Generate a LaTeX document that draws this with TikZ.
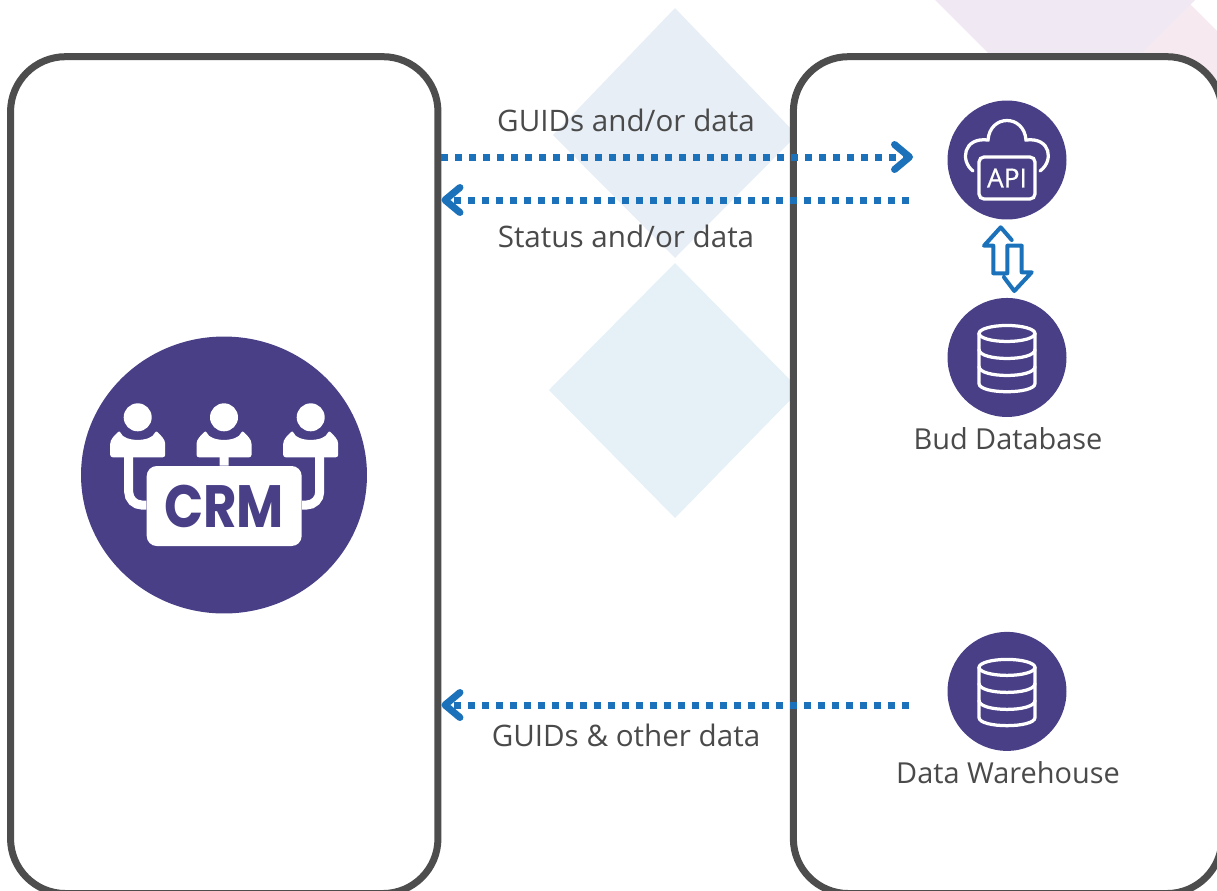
\documentclass[tikz,border=0pt]{standalone}
\usepackage{fontspec}
\usepackage{tikz}
\usetikzlibrary{arrows.meta,shapes.geometric,positioning}
\setmainfont{Open Sans}
\newfontfamily\crmfont[FakeStretch=0.86]{Poppins}
\newfontfamily\apifont[FakeBold=0.5]{Open Sans}
\definecolor{iconpurple}{HTML}{483F87}
\definecolor{flowblue}{HTML}{1B72BA}
\definecolor{panelgrey}{HTML}{4D4D4D}
\definecolor{textgrey}{HTML}{4A4A4A}
\definecolor{bgblue}{HTML}{E8EEF6}
\definecolor{bgsky}{HTML}{E5F0F7}
\definecolor{bglilac}{HTML}{F0E9F3}
\definecolor{bgpink}{HTML}{F7E9F0}

\begin{document}
\begin{tikzpicture}[x=0.02cm, y=-0.02cm, node distance={3.95cm},
    panel/.style = {draw=panelgrey, fill=white, line width=0.14cm, rounded corners=1.1cm, inner sep=0pt},
    main/.style = {circle, fill=iconpurple, minimum size=2.38cm, inner sep=0pt},
    flow/.style = {draw=flowblue, line width=0.14cm, dash pattern=on 0.14cm off 0.14cm, -{Straight Barb[length=0.3cm, width=0.5cm, line width=0.14cm, round]}},
    lbl/.style = {text=textgrey, font=\fontsize{16.85}{18}\selectfont, inner sep=0pt},
    sidelbl/.style = {text=textgrey, font=\fontsize{16.45}{18}\selectfont, inner sep=0pt},
    glyph/.style = {draw=white, line width=0.065cm, line cap=round},
    wire/.style = {draw=white, line width=0.18cm, rounded corners=0.26cm},
    person/.pic = {
        \fill[white] (0,0) circle [radius=14];
        \fill[white, rounded corners=0.05cm] (-27.5,40) -- (-27.5,29) .. controls (-27.5,22) and (-23,18) .. (-18,13) .. controls (-14,25) and (14,25) .. (18,13) .. controls (23,18) and (27.5,22) .. (27.5,29) -- (27.5,40) -- cycle;
    },
    dbglyph/.pic = {
        \draw[glyph] (0,-24) ellipse [x radius=28, y radius=8];
        \draw[glyph] (-28,-24) -- (-28,26) .. controls (-28,37) and (28,37) .. (28,26) -- (28,-24);
        \draw[glyph] (-28,-8) .. controls (-28,4) and (28,4) .. (28,-8);
        \draw[glyph] (-28,9) .. controls (-28,21) and (28,21) .. (28,9);
    }]
    \path[use as bounding box, clip] (0,0) rectangle (1217,890);
    % backdrop
    \fill[bgblue] (675,8) -- (797,135) -- (675,258) -- (553,135) -- cycle;
    \fill[bgsky] (675,263) -- (800,390) -- (675,518) -- (549,390) -- cycle;
    \fill[bgpink] (1190,4) -- (1280,94) -- (1190,184) -- (1100,94) -- cycle;
    \fill[bglilac] (935,0) -- (1195,0) -- (1065,130) -- cycle;
    % panels
    \node[panel, minimum width=8.55cm, minimum height=16.74cm] (crmpanel) at (224.25,475.1) {};
    \node[panel, minimum width=8.574cm, minimum height=16.74cm] (budpanel) at (1007.65,475.1) {};
    % right column
    \node[main] (api) at (1007,160) {};
    \node[main] (bud) [below of=api] {};
    \node[main, node distance=6.68cm] (warehouse) [below of=bud] {};
    \node[sidelbl] (budlbl) at (1008,439) {Bud Database};
    \node[sidelbl] (warehouselbl) at (1008,773) {Data Warehouse};
    \pic at (bud) {dbglyph};
    \pic at (warehouse) {dbglyph};
    \node[draw=white, line width=0.065cm, rounded corners=0.1cm, minimum width=1.12cm, minimum height=0.84cm, inner sep=0pt, text=white, font=\apifont\fontsize{15}{15}\selectfont, yshift=-0.36cm] (apitag) at (api) {API};
    \draw[glyph, shift={(api)}] (-34,11) .. controls (-47,1) and (-44,-23) .. (-19,-20) .. controls (-17,-46) and (17,-46) .. (19,-20) .. controls (44,-23) and (47,1) .. (33,11);
    % up and down arrows
    \draw[flowblue, line width=0.08cm, line join=round, line cap=round] (1011.7,240) -- (1000.7,227.3) -- (984,245.7) -- (993.3,245.7) -- (993.3,273.3) -- (1007.3,273.3) -- (1007.3,245.7) -- (1021.7,245.7) -- (1021.7,272.3) -- (1031.7,272.3) -- (1014.3,291) -- (1004,277.3);
    % crm side
    \node[ellipse, fill=iconpurple, minimum width=5.72cm, minimum height=5.54cm, inner sep=0pt] (crm) at (224,475) {};
    \pic at (137.7,417.3) {person};
    \pic at (224,417.3) {person};
    \pic at (310.7,417.3) {person};
    \node[fill=white, rounded corners=0.2cm, minimum width=3.1cm, minimum height=1.6cm, inner sep=0pt, text=iconpurple, font=\crmfont\bfseries\fontsize{34}{34}\selectfont] (crmtag) at (224.2,506) {CRM};
    \draw[wire] (128.7,450) |- (crmtag.west |- 0,505);
    \draw[wire] (319.7,450) |- (crmtag.east |- 0,505);
    \draw[wire] (224,450) -- (crmtag.north);
    % flows
    \coordinate (apiin) at (913,157);
    \coordinate (apiout) at (909,200);
    \coordinate (dwout) at (909,705);
    \draw[flow] (crmpanel.east |- apiin) -- (apiin);
    \draw[flow] (apiout) -- (crmpanel.east |- apiout);
    \draw[flow] (dwout) -- (crmpanel.east |- dwout);
    \node[lbl] (guidslbl) at (626,120) {GUIDs and/or data};
    \node[lbl] (statuslbl) at (626,236) {Status and/or data};
    \node[lbl] (otherlbl) at (626,735) {GUIDs \& other data};
\end{tikzpicture}
\end{document}
